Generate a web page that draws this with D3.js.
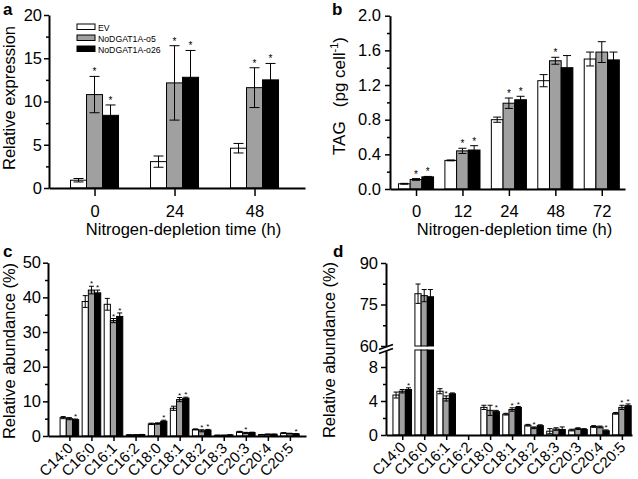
<!DOCTYPE html>
<html><head><meta charset="utf-8">
<script src="https://cdn.jsdelivr.net/npm/d3@7"></script>
<style>body{margin:0;background:#fff} text{font-family:"Liberation Sans",Arial,sans-serif;fill:#000}</style>
</head><body><svg id="chart" width="638" height="479"></svg>
<script>
// ---- data ----
const series = ["EV","NoDGAT1A-o5","NoDGAT1A-o26"];
const fills = ["#ffffff","#a0a0a0","#000000"];

const aTimes = ["0","24","48"];
const aEV = [0.9,3.05,4.6],   aEVErr = [0.2,0.65,0.55];
const aO5 = [10.8,12.15,11.6], aO5Err = [2.1,4.3,2.3];
const aO26 = [8.4,12.8,12.5], aO26Err = [1.2,3.1,1.9];
const aStars = [[0,1,1],[0,1,1],[0,1,1]];
const aYTicks = [0,5,10,15,20], aYMinor = [2.5,7.5,12.5,17.5];

const bTimes = ["0","12","24","48","72"];
const bEV = [0.06,0.33,0.80,1.25,1.50],  bEVErr = [0.005,0.005,0.03,0.07,0.08];
const bO5 = [0.11,0.44,0.99,1.48,1.58],  bO5Err = [0.01,0.03,0.06,0.04,0.12];
const bO26 = [0.14,0.45,1.03,1.40,1.49], bO26Err = [0.005,0.05,0.04,0.14,0.09];
const bStars = [[0,1,1],[0,1,1],[0,1,1],[0,1,0],[0,0,0]];
const bYTicks = [0,0.4,0.8,1.2,1.6,2.0], bYMinor = [0.2,0.6,1.0,1.4,1.8];

const fattyAcids = ["C14:0","C16:0","C16:1","C16:2","C18:0","C18:1","C18:2","C18:3","C20:3","C20:4","C20:5"];
const cEV = [5.3,38.8,38.0,0.3,3.5,8.0,1.9,0.2,1.2,0.4,0.85];
const cEVErr = [0.3,1.7,1.7,0.05,0.2,0.6,0.15,0.05,0.15,0.05,0.1];
const cO5 = [5.0,42.1,33.3,0.3,3.6,10.5,1.5,0.2,0.9,0.5,0.7];
const cO5Err = [0.3,1.1,0.6,0.05,0.2,0.6,0.3,0.05,0.15,0.05,0.1];
const cO26 = [4.7,41.3,34.5,0.4,4.25,10.9,1.7,0.3,1.0,0.5,0.6];
const cO26Err = [0.2,0.8,1.0,0.05,0.3,0.3,0.2,0.05,0.1,0.05,0.1];
const cStars = [[0,0,1],[0,1,1],[0,1,1],[0,0,0],[0,0,1],[0,1,1],[0,1,1],[0,0,0],[0,1,0],[0,0,0],[0,0,1]];
const cYTicks = [0,10,20,30,40,50], cYMinor = [5,15,25,35,45];

const dEV = [4.7,78.9,5.15,0,3.25,2.45,1.15,0.45,0.58,1.0,2.55];
const dEVErr = [0.35,3.5,0.3,0,0.25,0.1,0.1,0.3,0.1,0.1,0.1];
const dO5 = [5.15,78.2,4.3,0,2.9,3.0,0.85,0.7,0.75,0.95,3.25];
const dO5Err = [0.2,2.2,0.3,0,0.6,0.2,0.1,0.15,0.1,0.1,0.25];
const dO26 = [5.35,77.8,4.85,0,2.75,3.25,1.1,0.65,0.65,0.5,3.45];
const dO26Err = [0.2,2.6,0.1,0,0.15,0.1,0.1,0.3,0.1,0.1,0.2];
const dStars = [[0,0,1],[0,0,0],[0,1,0],[0,0,0],[0,0,1],[0,1,1],[0,1,0],[0,0,0],[0,0,0],[0,0,1],[0,1,1]];
const dLowTicks = [0,4,8], dLowMinor = [2,6];
const dHighTicks = [60,75,90], dHighMinor = [67.5,82.5];

// ---- drawing ----
const svg = d3.select("#chart");
const FONT = 16.5;

function styleAxis(g, sw) {
  g.select(".domain").attr("stroke","#000").attr("stroke-width",sw||2);
  g.selectAll(".tick line").attr("stroke","#000").attr("stroke-width",1.5);
  g.selectAll("text").attr("font-size",FONT).attr("font-family",'"Liberation Sans",Arial,sans-serif');
}

function yAxis(x0, y, ticks, minor, fmt, pad) {
  const g = svg.append("g").attr("transform",`translate(${x0},0)`)
    .call(d3.axisLeft(y).tickValues(ticks).tickSize(5).tickSizeOuter(0).tickPadding(pad).tickFormat(fmt));
  styleAxis(g);
  const m = svg.append("g").attr("transform",`translate(${x0},0)`)
    .call(d3.axisLeft(y).tickValues(minor).tickSize(3).tickSizeOuter(0).tickFormat(""));
  m.select(".domain").remove();
  m.selectAll(".tick line").attr("stroke","#000").attr("stroke-width",1.5);
  return g;
}

function xAxis(y0, x, cats, tickLen, labelY, rotated) {
  const g = svg.append("g").attr("transform",`translate(0,${y0})`)
    .call(d3.axisBottom(x).tickValues(d3.range(cats.length)).tickSize(tickLen).tickSizeOuter(0).tickFormat(i=>cats[i]));
  styleAxis(g);
  if (rotated) {
    g.selectAll(".tick text").attr("font-size",15).attr("text-anchor","end")
      .attr("dy",null).attr("y",null)
      .attr("transform","translate(4,13) rotate(-45)");
  } else {
    g.selectAll(".tick text").attr("dy",null).attr("y",labelY);
  }
  return g;
}

function bars(cats, vals, errs, stars, x, yv, rectsFor, barW, capW, starSize, starShift) {
  const g = svg.append("g");
  cats.forEach((c,i)=>{
    for (let j=0;j<3;j++){
      const v = vals[j][i], e = errs[j][i];
      if (v<=0) continue;
      const cx = x(i) + (j-1)*barW;
      rectsFor(v).forEach(([y0,y1])=>{
        g.append("rect").attr("x",cx-barW/2).attr("y",y1).attr("width",barW).attr("height",y0-y1)
          .attr("fill",fills[j]).attr("stroke","#000").attr("stroke-width",1);
      });
      const yt = yv(v+e), yb = yv(v-e);
      if (e>0) {
        g.append("line").attr("x1",cx).attr("x2",cx).attr("y1",yt).attr("y2",yb).attr("stroke","#000").attr("stroke-width",1);
        [yt,yb].forEach(yy=>g.append("line").attr("x1",cx-capW/2).attr("x2",cx+capW/2).attr("y1",yy).attr("y2",yy).attr("stroke","#000").attr("stroke-width",1));
      }
      if (stars[i][j]) {
        g.append("text").attr("x",cx).attr("y",yt+starShift).attr("text-anchor","middle")
          .attr("font-size",starSize).text("*");
      }
    }
  });
}

function label(x,y,t,opts) {
  const el = svg.append("text").attr("x",x).attr("y",y).attr("font-size",FONT).text(t);
  if (opts && opts.bold) el.attr("font-weight","bold").attr("font-size",17);
  if (opts && opts.anchor) el.attr("text-anchor",opts.anchor);
  return el;
}
function vlabel(x,y,t) {
  return svg.append("text").attr("transform",`translate(${x},${y}) rotate(-90)`).attr("text-anchor","middle").attr("font-size",FONT).text(t);
}

// Panel a
{
  const x = d3.scaleLinear().domain([-0.569,2.631]).range([49,305]);
  const y = d3.scaleLinear().domain([0,20]).range([188,15]);
  bars(aTimes,[aEV,aO5,aO26],[aEVErr,aO5Err,aO26Err],aStars,x,y,v=>[[y(0),y(v)]],16,10,10,-1);
  yAxis(49,y,aYTicks,aYMinor,d3.format("d"),2);
  xAxis(188,x,aTimes,8,28.5,false);
  label(183.5,235,"Nitrogen-depletion time (h)",{anchor:"middle"});
  vlabel(15,98,"Relative expression");
  label(3,15,"a",{bold:true});
  // legend
  const lg = svg.append("g");
  series.forEach((s,j)=>{
    lg.append("rect").attr("x",77).attr("y",24+11*j).attr("width",18).attr("height",5.5)
      .attr("fill",fills[j]).attr("stroke","#000").attr("stroke-width",1);
    lg.append("text").attr("x",98).attr("y",30.5+11*j).attr("font-size",8.7).text(s);
  });
}

// Panel b
{
  const x = d3.scaleLinear().domain([-0.56,4.5]).range([390,625]);
  const y = d3.scaleLinear().domain([0,2]).range([189,15.7]);
  bars(bTimes,[bEV,bO5,bO26],[bEVErr,bO5Err,bO26Err],bStars,x,y,v=>[[y(0),y(v)]],11.7,8,10,-1);
  yAxis(390,y,bYTicks,bYMinor,d3.format(".1f"),4);
  xAxis(189,x,bTimes,7,27.5,false);
  label(514.5,235,"Nitrogen-depletion time (h)",{anchor:"middle"});
  const t = svg.append("text").attr("transform","translate(345,96) rotate(-90)").attr("text-anchor","middle").attr("font-size",17);
  t.append("tspan").text("TAG\u00a0\u00a0\u00a0(pg cell");
  t.append("tspan").attr("font-size",11).attr("dy",-7).text("-1");
  t.append("tspan").attr("dy",7).text(")");
  label(332,15,"b",{bold:true});
}

// Panel c
{
  const x = d3.scaleLinear().domain([-0.97,10.73]).range([48,306]);
  const y = d3.scaleLinear().domain([0,50]).range([436,262.7]);
  bars(fattyAcids,[cEV,cO5,cO26],[cEVErr,cO5Err,cO26Err],cStars,x,y,v=>[[y(0),y(v)]],6.2,5,8,0);
  yAxis(48,y,cYTicks,cYMinor,d3.format("d"),2);
  xAxis(436,x,fattyAcids,5,0,true);
  vlabel(15,351,"Relative abundance (%)");
  label(3,257,"c",{bold:true});
}

// Panel d (broken axis)
{
  const x = d3.scaleLinear().domain([-0.74,10.46]).range([386,632]);
  const yLow = d3.scaleLinear().domain([0,10]).range([435,350]);
  const yHigh = d3.scaleLinear().domain([60,90]).range([346,263]);
  const yv = v => v<=10 ? yLow(v) : yHigh(v);
  const rectsFor = v => v<=10 ? [[yLow(0),yLow(v)]] : [[yLow(0),yLow(10)],[yHigh(60),yHigh(v)]];
  bars(fattyAcids,[dEV,dO5,dO26],[dEVErr,dO5Err,dO26Err],dStars,x,yv,rectsFor,6.2,5,8,0);
  yAxis(386,yLow,dLowTicks,dLowMinor,d3.format("d"),3);
  yAxis(386,yHigh,dHighTicks,dHighMinor,d3.format("d"),3);
  xAxis(435,x,fattyAcids,5,0,true);
  // break marks
  const bk = svg.append("g");
  bk.append("polygon").attr("points","379,349 393,344 393,349 379,354").attr("fill","#fff");
  [[379,349.5,393,344.5],[379,353.5,393,348.5]].forEach(([a,b,c,d])=>
    bk.append("line").attr("x1",a).attr("y1",b).attr("x2",c).attr("y2",d).attr("stroke","#000").attr("stroke-width",1.6));
  vlabel(335,350,"Relative abundance (%)");
  label(333,257,"d",{bold:true});
}
</script></body></html>
